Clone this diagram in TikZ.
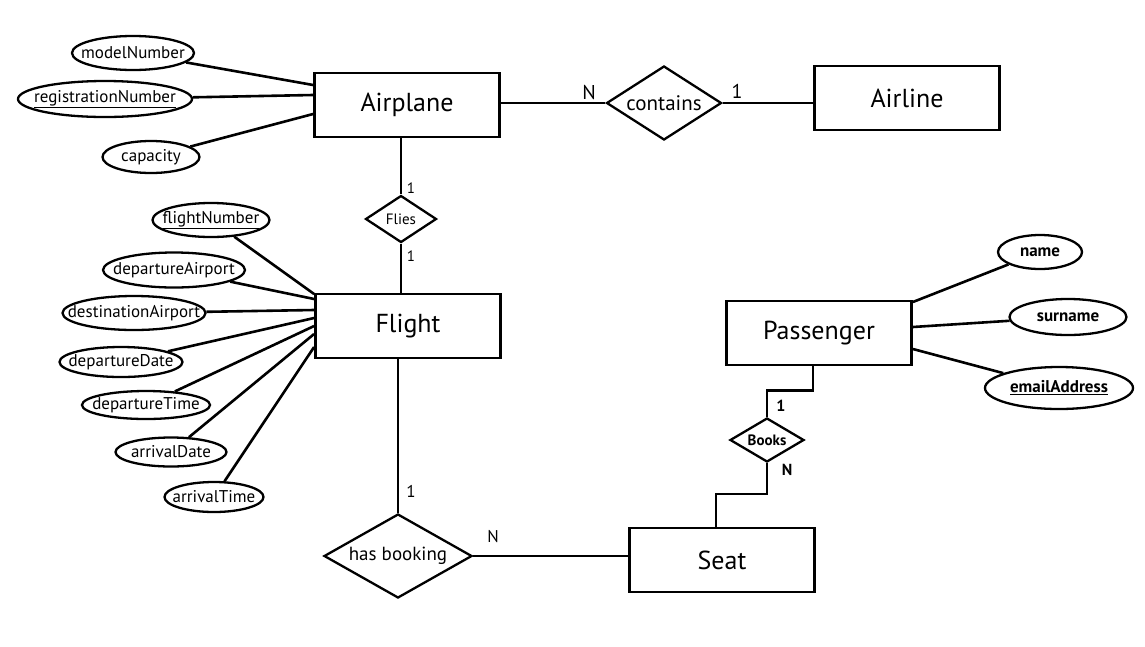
\documentclass[tikz,border=0pt]{standalone}
\usepackage{fontspec}
\setmainfont{PT Sans}
\usepackage{tikz}
\usetikzlibrary{shapes.geometric}
\usetikzlibrary{positioning}
\usetikzlibrary{calc}

\begin{document}
\begin{tikzpicture}[
        x=1pt, y=-1pt,
        entity/.style={draw, line width=2.8pt, minimum width=185pt, minimum height=64pt, font=\fontsize{26}{29}\selectfont},
        relation/.style={draw, diamond, line width=2.3pt, inner sep=0pt},
        attrib/.style={draw, ellipse, line width=2.3pt, inner sep=0pt, font=\fontsize{17}{19}\selectfont},
        link/.style={line width=2.6pt},
        card/.style={font=\fontsize{17}{19}\selectfont}
    ]

    %=== Canvas ===%
    \fill[white] (0,0) rectangle (1145,646);
    \useasboundingbox (0,0) rectangle (1145,646);

    %=== Attribute Macro ===%
    \newcommand{\attribute}[7]{
        \node[attrib, minimum width=#4, minimum height=#5] (#1) at (#2,#3) {\makebox[0pt]{#6}};
        \draw[link] (#1) -- (#7);
    }

    %=== Entities ===%
    \node[entity] (airplane) at (407,105) {Airplane};
    \node[entity] (airline) at (907,98) {Airline};
    \node[entity] (flight) at (408,326) {Flight};
    \node[entity] (passenger) at (819,333) {Passenger};
    \node[entity] (seat) at (722,560) {Seat};

    %=== Relationships ===%
    \node[relation, aspect=1.55, minimum width=115pt, minimum height=74pt, font=\fontsize{21}{23}\selectfont] (contains) at (664,103) {contains};
    \node[relation, aspect=1.5, minimum width=71pt, minimum height=47pt, font=\fontsize{15}{17}\selectfont] (flies) at (401,219) {Flies};
    \node[relation, aspect=1.76, minimum width=148pt, minimum height=84pt, font=\fontsize{19}{21}\selectfont] (hasbooking) at (398,556) {has booking};
    \node[relation, aspect=1.68, minimum width=74pt, minimum height=44pt, font=\bfseries\fontsize{15}{17}\selectfont] (books) at (767,440) {Books};

    \draw[link] (airplane.east |- contains) -- (contains.west);
    \draw[link] (contains.east) -- (airline.west |- contains.east);
    \draw[link] (airplane.south -| flies) -- (flies.north);
    \draw[link] (flies.south) -- (flight.north -| flies);
    \draw[link] (flight.south -| hasbooking) -- (hasbooking.north);
    \draw[link] (hasbooking.east) -- (seat.west |- hasbooking.east);
    \draw[link] ([xshift=-6pt]passenger.south) -- ++(0,24) -| (books.north);
    \draw[link] (books.south) -- ++(0,31) -| ([xshift=-6pt]seat.north);

    %=== Cardinalities ===%
    \node[card, font=\fontsize{20}{22}\selectfont] (cardAirplane) at (589,92) {N};
    \node[card, font=\fontsize{20}{22}\selectfont] (cardAirline) at (737,91) {1};
    \node[card, font=\fontsize{15}{17}\selectfont] (cardFliesTop) at (411,188) {1};
    \node[card, font=\fontsize{15}{17}\selectfont] (cardFliesBot) at (411,256) {1};
    \node[card] (cardFlight) at (411,491) {1};
    \node[card] (cardSeatN) at (493,537) {N};
    \node[card, font=\bfseries\fontsize{16}{18}\selectfont] (cardPassenger) at (781,406) {1};
    \node[card, font=\bfseries\fontsize{16}{18}\selectfont] (cardSeatB) at (787,470) {N};

    %=== Airplane attributes ===%
    \attribute{modelNumber}{133}{53}{122pt}{34pt}{modelNumber}{[yshift=20pt]airplane.west};
    \attribute{registrationNumber}{105}{99}{174pt}{36pt}{\underline{registrationNumber}}{[yshift=10pt]airplane.west};
    \attribute{capacity}{151}{157}{97pt}{32pt}{capacity}{[yshift=-9pt]airplane.west};

    %=== Flight attributes ===%
    \attribute{flightNumber}{211}{220}{117pt}{34pt}{\underline{flightNumber}}{[yshift=32pt]flight.west};
    \attribute{departureAirport}{174}{270}{142pt}{35pt}{departureAirport}{[yshift=27pt]flight.west};
    \attribute{destinationAirport}{134}{313}{143pt}{34pt}{destinationAirport}{[yshift=16pt]flight.west};
    \attribute{departureDate}{121}{362}{123pt}{30pt}{departureDate}{[yshift=8pt]flight.west};
    \attribute{departureTime}{146}{405}{128pt}{28pt}{departureTime}{flight.west};
    \attribute{arrivalDate}{171}{452}{111pt}{29pt}{arrivalDate}{[yshift=-8pt]flight.west};
    \attribute{arrivalTime}{214}{497}{99pt}{30pt}{arrivalTime}{[yshift=-21pt]flight.west};

    %=== Passenger attributes ===%
    \attribute{name}{1040}{252}{84pt}{34pt}{\textbf{name}}{[yshift=31pt]passenger.east};
    \attribute{surname}{1068}{317}{117pt}{36pt}{\textbf{surname}}{[yshift=6pt]passenger.east};
    \attribute{emailAddress}{1059}{388}{148pt}{42pt}{\textbf{\underline{emailAddress}}}{[yshift=-16pt]passenger.east};
\end{tikzpicture}
\end{document}
